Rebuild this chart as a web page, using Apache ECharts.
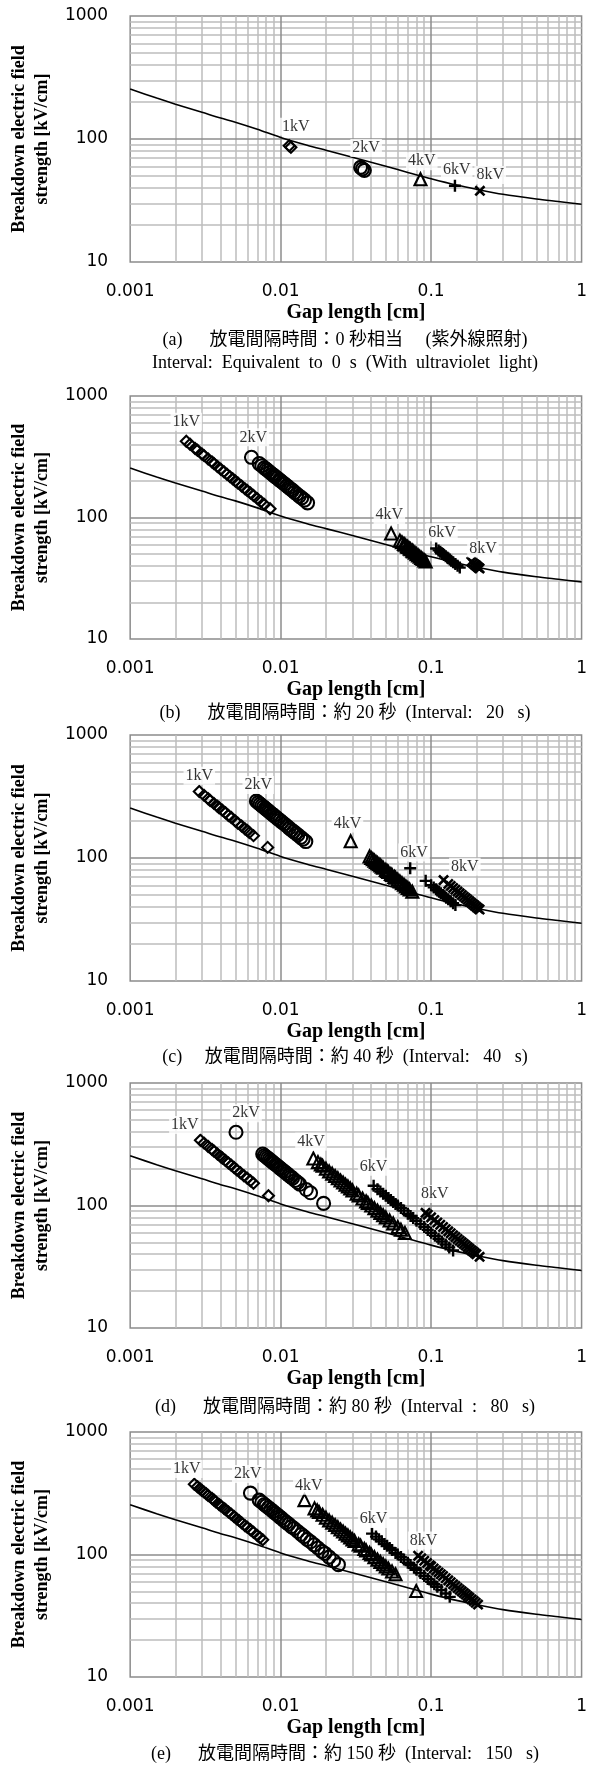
<!DOCTYPE html>
<html>
<head>
<meta charset="UTF-8">
<title></title>
<script src="https://cdn.jsdelivr.net/npm/echarts@6/dist/echarts.min.js"></script>
<style>html,body{margin:0;padding:0;background:#fff;}</style>
</head>
<body>
<div id="main" style="width:590px;height:1769px;"></div>
<script>
// theoretical breakdown curve
var curveGap = [0.001, 0.0015, 0.002, 0.003, 0.004, 0.005, 0.007, 0.01, 0.015, 0.02, 0.03, 0.05, 0.07, 0.1, 0.15, 0.2, 0.3, 0.5, 0.7, 1];
var curveField = [255, 215, 192, 165, 148, 137, 120, 103, 89, 81, 71, 60, 53.5, 47.5, 42, 39, 35.5, 32.5, 31, 29.5];

// (a) with ultraviolet light
var a1kV = [[0.0114, 88], [0.0117, 85.5]];
var a2kV = [[0.034, 58.8], [0.035, 57.1], [0.036, 55.6]];
var a4kV = [[0.085, 47.1]];
var a6kV = [[0.144, 41.7]];
var a8kV = [[0.211, 37.9]];

// (b) 20 s
var b1kV = [[0.00236, 424], [0.0025, 400], [0.0027, 370], [0.0028, 357], [0.003, 333], [0.0031, 323], [0.0033, 303], [0.0035, 286], [0.0036, 278], [0.0038, 263], [0.004, 250], [0.0042, 238], [0.0044, 227], [0.0046, 217], [0.0048, 208], [0.005, 200], [0.0052, 192], [0.0055, 182], [0.0058, 172], [0.006, 167], [0.0063, 159], [0.0066, 152], [0.007, 143], [0.0074, 135], [0.0078, 128], [0.0085, 118]];
var b2kV = [[0.0064, 313], [0.0072, 278], [0.0075, 267], [0.0078, 256], [0.008, 250], [0.0082, 244], [0.0085, 235], [0.0088, 227], [0.009, 222], [0.0092, 217], [0.0095, 211], [0.0098, 204], [0.01, 200], [0.0103, 194], [0.0106, 189], [0.011, 182], [0.0113, 177], [0.0117, 171], [0.012, 167], [0.0124, 161], [0.0128, 156], [0.0133, 150], [0.0138, 145], [0.0144, 139], [0.0151, 132]];
var b4kV = [[0.0542, 73.8], [0.062, 64.5], [0.064, 62.5], [0.066, 60.6], [0.067, 59.7], [0.069, 58], [0.07, 57.1], [0.072, 55.6], [0.073, 54.8], [0.075, 53.3], [0.076, 52.6], [0.078, 51.3], [0.08, 50], [0.082, 48.8], [0.084, 47.6], [0.086, 46.5], [0.088, 45.5], [0.09, 44.4], [0.092, 43.5]];
var b6kV = [[0.108, 55.6], [0.112, 53.6], [0.115, 52.2], [0.118, 50.8], [0.12, 50], [0.122, 49.2], [0.125, 48], [0.128, 46.9], [0.13, 46.2], [0.133, 45.1], [0.136, 44.1], [0.14, 42.9], [0.145, 41.4], [0.15, 40], [0.155, 38.7]];
var b8kV = [[0.185, 43.2], [0.19, 42.1], [0.195, 41], [0.198, 40.4], [0.2, 40], [0.203, 39.4], [0.207, 38.6], [0.21, 38.1]];

// (c) 40 s
var c1kV = [[0.00288, 347], [0.0031, 323], [0.0033, 303], [0.0034, 294], [0.0036, 278], [0.0038, 263], [0.0039, 256], [0.0041, 244], [0.0043, 233], [0.0045, 222], [0.0047, 213], [0.005, 200], [0.0052, 192], [0.0055, 182], [0.0058, 172], [0.006, 167], [0.0062, 161], [0.0066, 152], [0.0082, 122]];
var c2kV = [[0.0069, 290], [0.0071, 282], [0.0073, 274], [0.0075, 267], [0.0077, 260], [0.0079, 253], [0.0081, 247], [0.0083, 241], [0.0085, 235], [0.0088, 227], [0.009, 222], [0.0093, 215], [0.0096, 208], [0.0099, 202], [0.0102, 196], [0.0106, 189], [0.011, 182], [0.0114, 175], [0.0118, 169], [0.0122, 164], [0.0126, 159], [0.013, 154], [0.0136, 147], [0.0141, 142], [0.0147, 136]];
var c4kV = [[0.0292, 137], [0.039, 103], [0.04, 100], [0.041, 97.6], [0.042, 95.2], [0.043, 93], [0.044, 90.9], [0.045, 88.9], [0.046, 87], [0.047, 85.1], [0.048, 83.3], [0.05, 80], [0.051, 78.4], [0.052, 76.9], [0.054, 74.1], [0.055, 72.7], [0.057, 70.2], [0.058, 69], [0.06, 66.7], [0.062, 64.5], [0.064, 62.5], [0.066, 60.6], [0.068, 58.8], [0.07, 57.1], [0.072, 55.6], [0.075, 53.3]];
var c6kV = [[0.0726, 82.6], [0.092, 65.2], [0.1, 60], [0.104, 57.7], [0.108, 55.6], [0.11, 54.5], [0.113, 53.1], [0.116, 51.7], [0.12, 50], [0.123, 48.8], [0.126, 47.6], [0.13, 46.2], [0.135, 44.4], [0.14, 42.9], [0.145, 41.4]];
var c8kV = [[0.121, 66.1], [0.13, 61.5], [0.135, 59.3], [0.14, 57.1], [0.145, 55.2], [0.15, 53.3], [0.155, 51.6], [0.16, 50], [0.165, 48.5], [0.17, 47.1], [0.175, 45.7], [0.18, 44.4], [0.185, 43.2], [0.19, 42.1], [0.195, 41], [0.2, 40], [0.205, 39], [0.21, 38.1]];

// (d) 80 s
var d1kV = [[0.00293, 341], [0.0031, 323], [0.0033, 303], [0.0035, 286], [0.0036, 278], [0.0038, 263], [0.004, 250], [0.0041, 244], [0.0043, 233], [0.0045, 222], [0.0047, 213], [0.0049, 204], [0.0051, 196], [0.0054, 185], [0.0057, 175], [0.006, 167], [0.0063, 159], [0.0066, 152], [0.0083, 120]];
var d2kV = [[0.00505, 396], [0.0076, 263], [0.0078, 256], [0.008, 250], [0.0082, 244], [0.0084, 238], [0.0086, 233], [0.0088, 227], [0.009, 222], [0.0093, 215], [0.0095, 211], [0.0098, 204], [0.01, 200], [0.0103, 194], [0.0106, 189], [0.011, 182], [0.0113, 177], [0.0117, 171], [0.012, 167], [0.0125, 160], [0.013, 154], [0.0134, 149], [0.0148, 135], [0.0158, 127], [0.0193, 104]];
var d4kV = [[0.0165, 242], [0.0177, 226], [0.0185, 216], [0.019, 211], [0.02, 200], [0.021, 190], [0.022, 182], [0.023, 174], [0.024, 167], [0.025, 160], [0.026, 154], [0.027, 148], [0.028, 143], [0.029, 138], [0.03, 133], [0.032, 125], [0.033, 121], [0.035, 114], [0.037, 108], [0.038, 105], [0.04, 100], [0.042, 95.2], [0.044, 90.9], [0.046, 87], [0.048, 83.3], [0.05, 80], [0.053, 75.5], [0.056, 71.4], [0.06, 66.7], [0.063, 63.5], [0.067, 59.7]];
var d6kV = [[0.0415, 145], [0.044, 136], [0.046, 130], [0.048, 125], [0.05, 120], [0.052, 115], [0.054, 111], [0.056, 107], [0.058, 103], [0.06, 100], [0.063, 95.2], [0.066, 90.9], [0.07, 85.7], [0.073, 82.2], [0.076, 78.9], [0.08, 75], [0.085, 70.6], [0.09, 66.7], [0.095, 63.2], [0.1, 60], [0.106, 56.6], [0.112, 53.6], [0.118, 50.8], [0.125, 48], [0.132, 45.5], [0.14, 42.9]];
var d8kV = [[0.0918, 87.1], [0.095, 84.2], [0.1, 80], [0.105, 76.2], [0.11, 72.7], [0.115, 69.6], [0.12, 66.7], [0.125, 64], [0.13, 61.5], [0.135, 59.3], [0.14, 57.1], [0.145, 55.2], [0.15, 53.3], [0.155, 51.6], [0.16, 50], [0.165, 48.5], [0.17, 47.1], [0.175, 45.7], [0.18, 44.4], [0.185, 43.2], [0.19, 42.1], [0.195, 41], [0.2, 40], [0.21, 38.1]];

// (e) 150 s
var e1kV = [[0.00267, 375], [0.0028, 357], [0.0029, 345], [0.003, 333], [0.0031, 323], [0.0032, 313], [0.0033, 303], [0.0035, 286], [0.0036, 278], [0.0037, 270], [0.0039, 256], [0.004, 250], [0.0042, 238], [0.0043, 233], [0.0045, 222], [0.0047, 213], [0.0049, 204], [0.0051, 196], [0.0053, 189], [0.0055, 182], [0.0058, 172], [0.006, 167], [0.0063, 159], [0.0066, 152], [0.007, 143], [0.0073, 137], [0.0076, 132]];
var e2kV = [[0.0063, 317], [0.0072, 278], [0.0075, 267], [0.0078, 256], [0.008, 250], [0.0083, 241], [0.0086, 233], [0.0089, 225], [0.0092, 217], [0.0095, 211], [0.0098, 204], [0.0101, 198], [0.0105, 190], [0.0109, 183], [0.0113, 177], [0.0118, 169], [0.0123, 163], [0.013, 154], [0.0137, 146], [0.0143, 140], [0.015, 133], [0.0158, 127], [0.0167, 120], [0.0177, 113], [0.0188, 106], [0.0197, 102], [0.021, 95.2], [0.0225, 88.9], [0.0242, 82.6]];
var e4kV = [[0.0144, 278], [0.0168, 238], [0.0175, 229], [0.018, 222], [0.019, 211], [0.02, 200], [0.021, 190], [0.022, 182], [0.023, 174], [0.024, 167], [0.025, 160], [0.026, 154], [0.027, 148], [0.028, 143], [0.029, 138], [0.03, 133], [0.031, 129], [0.033, 121], [0.034, 118], [0.036, 111], [0.037, 108], [0.039, 103], [0.04, 100], [0.042, 95.2], [0.044, 90.9], [0.046, 87], [0.048, 83.3], [0.05, 80], [0.052, 76.9], [0.055, 72.7], [0.058, 69], [0.0796, 50.3]];
var e6kV = [[0.0405, 148], [0.043, 140], [0.045, 133], [0.047, 128], [0.049, 122], [0.051, 118], [0.053, 113], [0.055, 109], [0.058, 103], [0.06, 100], [0.063, 95.2], [0.066, 90.9], [0.07, 85.7], [0.073, 82.2], [0.077, 77.9], [0.08, 75], [0.085, 70.6], [0.09, 66.7], [0.095, 63.2], [0.1, 60], [0.105, 57.1], [0.11, 54.5], [0.117, 51.3], [0.125, 48], [0.133, 45.1]];
var e8kV = [[0.082, 97.6], [0.086, 93], [0.09, 88.9], [0.094, 85.1], [0.098, 81.6], [0.1, 80], [0.104, 76.9], [0.108, 74.1], [0.112, 71.4], [0.116, 69], [0.12, 66.7], [0.125, 64], [0.13, 61.5], [0.135, 59.3], [0.14, 57.1], [0.145, 55.2], [0.15, 53.3], [0.155, 51.6], [0.16, 50], [0.165, 48.5], [0.17, 47.1], [0.175, 45.7], [0.18, 44.4], [0.186, 43], [0.192, 41.7], [0.198, 40.4], [0.205, 39]];

// voltage labels: text, gap, field
var labelsA = [['1kV', 0.0126, 126], ['2kV', 0.037, 84.5], ['4kV', 0.0867, 66], ['6kV', 0.148, 56], ['8kV', 0.247, 51]];
var labelsB = [['1kV', 0.00236, 614], ['2kV', 0.00659, 457], ['4kV', 0.0528, 105], ['6kV', 0.118, 75.5], ['8kV', 0.221, 55.7]];
var labelsC = [['1kV', 0.00288, 466], ['2kV', 0.0071, 392], ['4kV', 0.0278, 191], ['6kV', 0.077, 111], ['8kV', 0.1676, 85]];
var labelsD = [['1kV', 0.00231, 454], ['2kV', 0.00589, 566], ['4kV', 0.0159, 332], ['6kV', 0.0415, 207], ['8kV', 0.1056, 124]];
var labelsE = [['1kV', 0.00238, 499], ['2kV', 0.00605, 454], ['4kV', 0.0154, 364], ['6kV', 0.0415, 195], ['8kV', 0.0891, 130]];

var captions = [
    ['(a)\u3000  放電間隔時間：0 秒相当\u3000 (紫外線照射)', 'Interval:  Equivalent  to  0  s  (With  ultraviolet  light)'],
    ['(b)\u3000  放電間隔時間：約 20 秒  (Interval:   20   s)'],
    ['(c)\u3000 放電間隔時間：約 40 秒  (Interval:   40   s)'],
    ['(d)\u3000  放電間隔時間：約 80 秒  (Interval  :   80   s)'],
    ['(e)\u3000  放電間隔時間：約 150 秒  (Interval:   150   s)']
];

// grid lines of the log paper
var minorGap = [0.002, 0.003, 0.004, 0.005, 0.006, 0.007, 0.008, 0.009, 0.02, 0.03, 0.04, 0.05, 0.06, 0.07, 0.08, 0.09, 0.2, 0.3, 0.4, 0.5, 0.6, 0.7, 0.8, 0.9];
var majorGap = [0.01, 0.1];
var minorField = [20, 30, 40, 50, 60, 70, 80, 90, 200, 300, 400, 500, 600, 700, 800, 900];
var majorField = [100];

// layout
var panels = [
    {top: 16, height: 246, sets: [a1kV, a2kV, a4kV, a6kV, a8kV], labels: labelsA, capY: [340, 363]},
    {top: 396, height: 243, sets: [b1kV, b2kV, b4kV, b6kV, b8kV], labels: labelsB, capY: [713]},
    {top: 735, height: 246, sets: [c1kV, c2kV, c4kV, c6kV, c8kV], labels: labelsC, capY: [1057]},
    {top: 1083, height: 245, sets: [d1kV, d2kV, d4kV, d6kV, d8kV], labels: labelsD, capY: [1407]},
    {top: 1432, height: 245, sets: [e1kV, e2kV, e4kV, e6kV, e8kV], labels: labelsE, capY: [1754]}
];

var plusPath = 'path://M4,0H6V4H10V6H6V10H4V6H0V4H4Z';
var symbols = ['diamond', 'circle', 'triangle', plusPath, plusPath];
var symRotate = [0, 0, 0, 0, 45];
var symSize = [11, 13, 12, 12, 13];
var names = ['1kV', '2kV', '4kV', '6kV', '8kV'];

function fmt(v) {
    return String(Math.round(v * 1000) / 1000);
}

var grids = [], xAxes = [], yAxes = [], series = [], graphics = [];
var curve = curveGap.map(function (g, k) { return [g, curveField[k]]; });

panels.forEach(function (p, i) {
    grids.push({
        left: 123, width: 459, top: p.top, height: p.height,
        show: true, backgroundColor: '#fff', borderColor: '#8c8c8c', borderWidth: 1.5
    });
    xAxes.push({
        gridIndex: i, type: 'log', logBase: 10, min: 0.001, max: 1,
        name: 'Gap length [cm]', nameLocation: 'middle', nameGap: 41,
        nameTextStyle: {fontFamily: 'Liberation Serif', fontWeight: 'bold', fontSize: 20, color: '#000'},
        axisLine: {show: false}, axisTick: {show: false}, splitLine: {show: false},
        axisLabel: {margin: 21, fontSize: 17, fontFamily: 'DejaVu Sans', color: '#000', formatter: fmt,
            showMinLabel: true, showMaxLabel: true}
    });
    yAxes.push({
        gridIndex: i, type: 'log', logBase: 10, min: 10, max: 1000,
        name: 'Breakdown electric field\nstrength [kV/cm]', nameLocation: 'middle', nameGap: 70, nameRotate: 90,
        nameTextStyle: {fontFamily: 'Liberation Serif', fontWeight: 'bold', fontSize: 18, lineHeight: 23, color: '#000'},
        axisLine: {show: false}, axisTick: {show: false}, splitLine: {show: false},
        axisLabel: {margin: 22, fontSize: 17, fontFamily: 'DejaVu Sans', color: '#000', formatter: fmt,
            showMinLabel: true, showMaxLabel: true}
    });

    var minorLines = minorGap.map(function (g) { return {coords: [[g, 10], [g, 1000]]}; })
        .concat(minorField.map(function (f) { return {coords: [[0.001, f], [1, f]]}; }));
    var majorLines = majorGap.map(function (g) { return {coords: [[g, 10], [g, 1000]]}; })
        .concat(majorField.map(function (f) { return {coords: [[0.001, f], [1, f]]}; }));
    series.push({
        type: 'lines', coordinateSystem: 'cartesian2d', xAxisIndex: i, yAxisIndex: i,
        silent: true, z: 1, data: minorLines,
        lineStyle: {color: '#bdbdbd', width: 1.5, opacity: 1}
    });
    series.push({
        type: 'lines', coordinateSystem: 'cartesian2d', xAxisIndex: i, yAxisIndex: i,
        silent: true, z: 1, data: majorLines,
        lineStyle: {color: '#8c8c8c', width: 1.5, opacity: 1}
    });

    series.push({
        type: 'line', xAxisIndex: i, yAxisIndex: i, data: curve, smooth: 0.3,
        symbol: 'none', silent: true, z: 2,
        lineStyle: {color: '#000', width: 1.6}
    });

    p.sets.forEach(function (set, k) {
        var cross = k >= 3;
        series.push({
            name: names[k], type: 'scatter', xAxisIndex: i, yAxisIndex: i, data: set,
            symbol: symbols[k], symbolSize: symSize[k], symbolRotate: symRotate[k], z: 3,
            itemStyle: cross ? {color: '#000', borderWidth: 0, opacity: 1}
                : {color: 'rgba(0,0,0,0)', borderColor: '#000', borderWidth: 2.1, opacity: 1}
        });
    });

    series.push({
        type: 'scatter', xAxisIndex: i, yAxisIndex: i, silent: true, z: 5,
        symbolSize: 1, itemStyle: {color: 'rgba(0,0,0,0)'},
        data: p.labels.map(function (l) { return {name: l[0], value: [l[1], l[2]]}; }),
        label: {show: true, position: 'inside', formatter: '{b}', backgroundColor: '#fff', padding: [1, 2],
            fontFamily: 'Liberation Serif', fontSize: 16, color: '#000'}
    });

    captions[i].forEach(function (txt, j) {
        graphics.push({
            type: 'text', x: 345, y: p.capY[j], silent: true,
            style: {text: txt, fill: '#000', font: '18px "Liberation Serif", "Noto Sans CJK JP"',
                align: 'center', verticalAlign: 'middle', textAlign: 'center', textVerticalAlign: 'middle'}
        });
    });
});

var chart = echarts.init(document.getElementById('main'));
chart.setOption({
    animation: false,
    backgroundColor: '#fff',
    grid: grids,
    xAxis: xAxes,
    yAxis: yAxes,
    series: series,
    graphic: graphics
});
</script>
</body>
</html>
